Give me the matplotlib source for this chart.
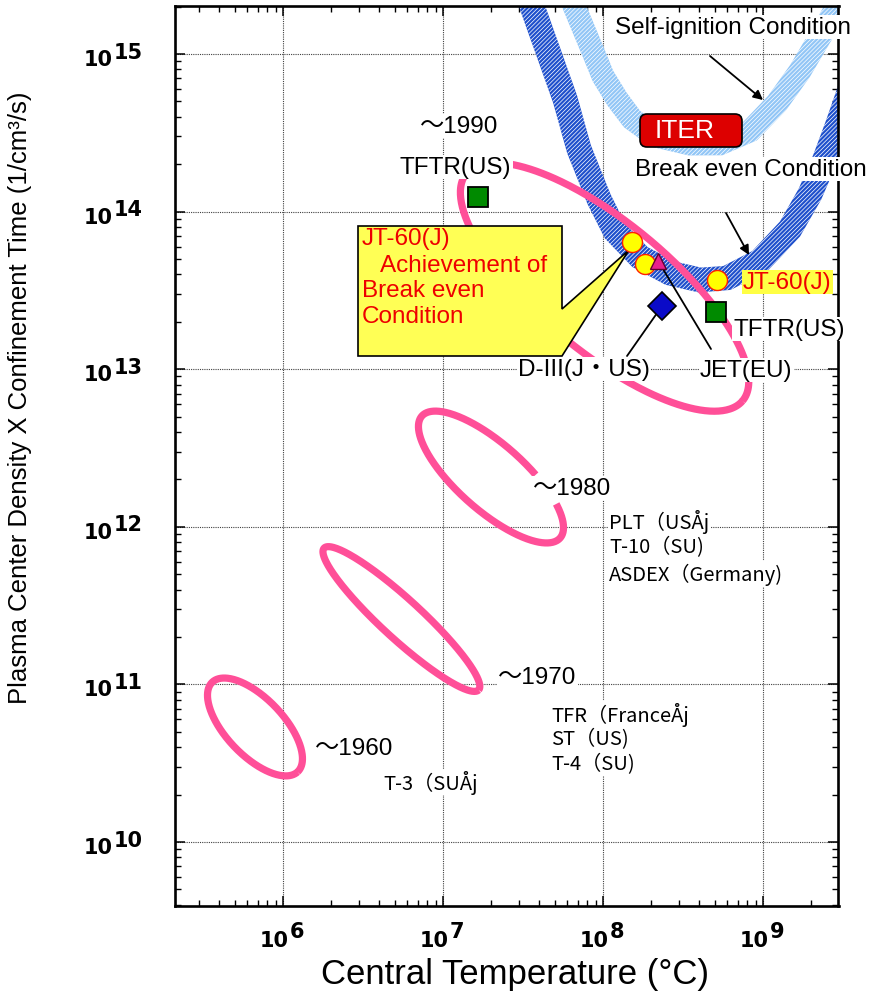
import numpy as np
import matplotlib
matplotlib.use('Agg')
import matplotlib.pyplot as plt
from matplotlib.patches import Polygon, FancyBboxPatch
from matplotlib.transforms import Affine2D
from matplotlib.ticker import LogLocator, NullFormatter

plt.rcParams['font.family'] = ['Liberation Sans', 'Noto Sans CJK JP', 'DejaVu Sans']
plt.rcParams['hatch.linewidth'] = 0.5

W, H = 881, 1004

# ---- data (log10 values) ----
# era regions, drawn as ellipses in log-log space
era_label = ['～1960', '～1970', '～1980', '～1990']
era_logT = [5.825, 6.74, 7.30, 8.01]
era_logN = [10.73, 11.415, 12.316, 13.522]
era_semi_major = [0.39, 0.66, 0.58, 1.125]   # decades
era_semi_minor = [0.18, 0.125, 0.21, 0.41]
era_tilt = [-47, -43, -42, -40]               # degrees
era_gap = [None, None, (44, 70), None]        # open part of the outline (deg)

# break-even condition band (centre line)
be_logT = [7.519, 7.556, 7.663, 7.763, 7.85, 7.975, 8.075, 8.231, 8.419,
           8.606, 8.775, 8.981, 9.169, 9.294, 9.388, 9.469, 9.556]
be_logN = [15.444, 15.305, 15.0, 14.714, 14.397, 14.080, 13.877, 13.712, 13.610,
           13.566, 13.579, 13.687, 13.890, 14.112, 14.334, 14.556, 14.810]

# self-ignition condition band (centre line)
si_logT = [7.781, 7.819, 7.944, 8.0, 8.088, 8.181, 8.325, 8.544, 8.731,
           8.919, 9.088, 9.231, 9.375, 9.469, 9.513]
si_logN = [15.444, 15.305, 15.0, 14.860, 14.714, 14.588, 14.480, 14.429, 14.429,
           14.511, 14.689, 14.892, 15.140, 15.317, 15.444]

# devices
jt60_T = [1.52e8, 1.83e8, 5.16e8]
jt60_N = [6.4e13, 4.65e13, 3.68e13]
tftr_T = [1.66e7, 5.08e8]
tftr_N = [1.24e14, 2.31e13]
jet_T, jet_N = 2.21e8, 4.87e13
d3_T, d3_N = 2.34e8, 2.52e13

x_exps = [6, 7, 8, 9]
y_exps = [10, 11, 12, 13, 14, 15]

pink = '#ff4f98'

fig = plt.figure(figsize=(W / 100, H / 100), dpi=100)
ax = fig.add_axes([174.5 / W, 1 - 907 / H, 664 / W, 900.5 / H])
ax.set_xscale('log')
ax.set_yscale('log')
ax.set_xlim(10 ** 5.322, 10 ** 9.472)
ax.set_ylim(10 ** 9.594, 10 ** 15.308)

for axis in (ax.xaxis, ax.yaxis):
    axis.set_major_locator(LogLocator(base=10, numticks=30))
    axis.set_minor_locator(LogLocator(base=10, subs=np.arange(2, 10), numticks=30))
    axis.set_minor_formatter(NullFormatter())
ax.tick_params(which='both', direction='in', top=True, right=True,
               labelbottom=False, labelleft=False)
ax.tick_params(which='major', length=7, width=1.1)
ax.tick_params(which='minor', length=4.5, width=1.0)
for s in ax.spines.values():
    s.set_linewidth(1.9)
ax.set_axisbelow(True)
ax.grid(which='major', linestyle=(0, (1, 1)), color='#404040', linewidth=0.8)

# pixel transform (image coords, origin top-left) for annotations
pix = Affine2D().scale(1, -1).translate(0, H)


def band(logT, logN, half_px, **kw):
    pts = ax.transData.transform(np.column_stack([10 ** np.array(logT), 10 ** np.array(logN)]))
    d = np.gradient(pts, axis=0)
    n = np.column_stack([-d[:, 1], d[:, 0]])
    n /= np.hypot(n[:, 0], n[:, 1])[:, None]
    outline = np.vstack([pts + half_px * n, (pts - half_px * n)[::-1]])
    ax.add_patch(Polygon(ax.transData.inverted().transform(outline), closed=True, **kw))


band(si_logT, si_logN, 11.5, facecolor='#92c6f6', edgecolor='white', hatch='////////',
     linewidth=0, zorder=1)
band(be_logT, be_logN, 12.5, facecolor='#1f50cc', edgecolor='white', hatch='////////',
     linewidth=0, zorder=1.1)

# era ellipses
for cx, cy, a, b, tilt, gap in zip(era_logT, era_logN, era_semi_major,
                                   era_semi_minor, era_tilt, era_gap):
    if gap:
        tt = np.radians(np.linspace(gap[1], gap[0] + 360, 400))
    else:
        tt = np.radians(np.linspace(0, 360, 400))
    th = np.radians(tilt)
    u, v = a * np.cos(tt), b * np.sin(tt)
    lx = cx + u * np.cos(th) - v * np.sin(th)
    ly = cy + u * np.sin(th) + v * np.cos(th)
    ax.plot(10 ** lx, 10 ** ly, color=pink, lw=5.2, solid_capstyle='butt', zorder=2)

# callout
callout = [(358, 227), (562, 227), (562, 310), (629, 251), (562, 357), (358, 357)]
ax.add_patch(Polygon(callout, closed=True, transform=pix, facecolor='#ffff55',
                     edgecolor='black', linewidth=1.2, zorder=3))
for (x, y, s) in [(362, 239, 'JT-60(J)'), (380, 266, 'Achievement of'),
                  (362, 291, 'Break even'), (362, 317, 'Condition')]:
    ax.text(x, y, s, transform=pix, fontsize=17.5, color='#ee0000', va='center', zorder=3.5)

# ITER box
ax.add_patch(FancyBboxPatch((640, 115), 102, 33, boxstyle='round,pad=0,rounding_size=7',
                            transform=pix, facecolor='#dd0000', edgecolor='black',
                            linewidth=1.2, zorder=4, clip_on=False))
ax.text(655, 131, 'ITER', transform=pix, fontsize=19, color='white', va='center', zorder=4.1)


def label(x, y, s, size=17.5, color='black', bg='white', family=None):
    kw = dict(transform=pix, fontsize=size, color=color, va='center', zorder=4)
    if bg:
        kw['bbox'] = dict(facecolor=bg, edgecolor='none', pad=1)
    if family:
        kw['family'] = family
    ax.text(x, y, s, **kw)


label(420, 127, era_label[3])
label(400, 168, 'TFTR(US)')
label(615, 28, 'Self-ignition Condition')
label(635, 170, 'Break even Condition')
label(743, 283, 'JT-60(J)', color='#ee0000', bg='#ffff44')
label(733, 330, 'TFTR(US)')
label(518, 370, 'D-III(J・US)')
label(700, 371, 'JET(EU)')
label(533, 489, era_label[2])
label(498, 678, era_label[1])
label(315, 749, era_label[0])

cjk = ['Noto Sans CJK JP']
for y, s in [(522, 'PLT（USÅj'), (548, 'T-10（SU)'), (575, 'ASDEX（Germany)')]:
    label(609, y, s, size=14.5, family=cjk)
for y, s in [(715, 'TFR（FranceÅj'), (740, 'ST（US)'), (765, 'T-4（SU)')]:
    label(551, y, s, size=14.5, family=cjk)
label(383, 783, 'T-3（SUÅj', size=14.5, family=cjk)

# leader lines and arrows
line = dict(arrowstyle='-', lw=1.3, color='black', shrinkA=0, shrinkB=0)
ax.annotate('', xy=(d3_T, d3_N), xycoords='data', xytext=(627, 357), textcoords=pix,
            arrowprops=line, zorder=4.5)
ax.annotate('', xy=(jet_T, jet_N), xycoords='data', xytext=(711, 350), textcoords=pix,
            arrowprops=line, zorder=4.5)
arrow = dict(arrowstyle='-|>', mutation_scale=14, lw=1.3, color='black', shrinkA=0, shrinkB=0)
ax.annotate('', xy=(763, 101), xycoords=pix, xytext=(710, 57), textcoords=pix,
            arrowprops=arrow, zorder=4.5)
ax.annotate('', xy=(749, 256), xycoords=pix, xytext=(726, 214), textcoords=pix,
            arrowprops=arrow, zorder=4.5)

# device markers
ax.plot(tftr_T, tftr_N, 's', ms=15, mfc='#008a00', mec='black', mew=1.3, ls='none', zorder=5)
ax.plot(jt60_T, jt60_N, 'o', ms=14.4, mfc='#ffff00', mec='#ff2000', mew=1.0, ls='none', zorder=5)
ax.plot([jet_T], [jet_N], '^', ms=11, mfc='#e8208c', mec='#600030', mew=1.0, zorder=6)
ax.plot([d3_T], [d3_N], 'D', ms=14, mfc='#0a0ac8', mec='black', mew=1.2, zorder=5)

# tick labels: bold 10 with full-size exponent
tk = dict(fontsize=15, fontweight='bold', family='DejaVu Sans', va='center',
          textcoords='offset points', annotation_clip=False)
for e in y_exps:
    ax.annotate('10', xy=(0, 10.0 ** e), xycoords=('axes fraction', 'data'),
                xytext=(-91 * 0.72, -5 * 0.72), ha='left', **tk)
    ax.annotate(str(e), xy=(0, 10.0 ** e), xycoords=('axes fraction', 'data'),
                xytext=(-61 * 0.72, 2.5 * 0.72), ha='left', **tk)
for e in x_exps:
    ax.annotate('10', xy=(10.0 ** e, 0), xycoords=('data', 'axes fraction'),
                xytext=(6 * 0.72, -34 * 0.72), ha='right', **tk)
    ax.annotate(str(e), xy=(10.0 ** e, 0), xycoords=('data', 'axes fraction'),
                xytext=(7 * 0.72, -25 * 0.72), ha='left', **tk)

ax.set_xlabel('Central Temperature (°C)', fontsize=25)
ax.xaxis.set_label_coords(0.513, -0.057)
ax.set_ylabel('Plasma Center Density X Confinement Time (1/cm³/s)', fontsize=18.5)
ax.yaxis.set_label_coords(-0.214, 0.566)

fig.savefig('out.png', dpi=100)
plt.close()
